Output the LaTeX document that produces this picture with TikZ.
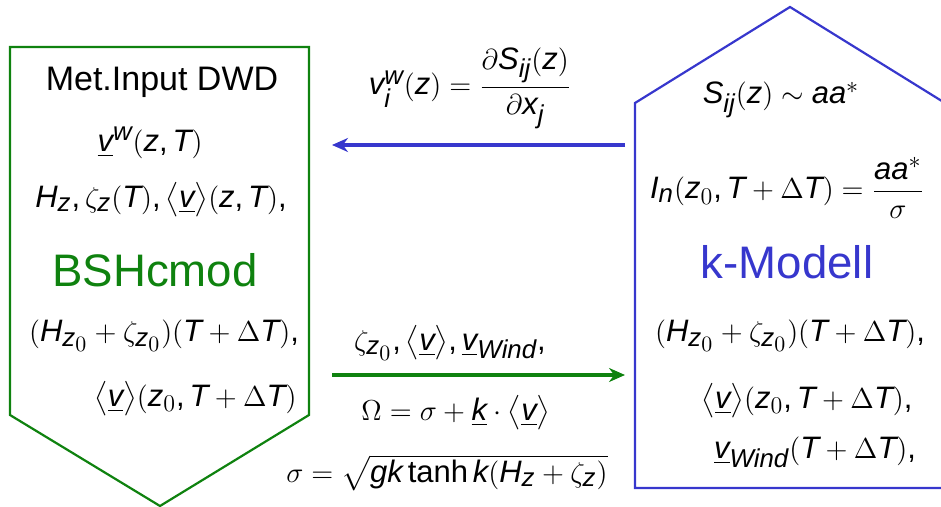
\documentclass[tikz,border=0pt]{standalone}
\usepackage{amsmath}
\usepackage{fontspec}
\setmainfont{Liberation Sans}
\usepackage[italic]{mathastext}
\usetikzlibrary{arrows.meta}
\definecolor{bshgreen}{RGB}{15,130,15}
\definecolor{kblue}{RGB}{55,55,205}
\newcommand{\vmean}{\bigl\langle\underline{v}\bigr\rangle}

\begin{document}
\begin{tikzpicture}[x=0.5pt,y=-0.5pt,
    every node/.style={inner sep=0pt,font=\fontsize{15.5}{18}\selectfont},
    title/.style={font=\fontsize{22.8}{27}\selectfont},
    head/.style={font=\fontsize{17}{20}\selectfont},
    flow/.style={line width=1.8pt,-{Stealth[length=8pt,width=7pt]}}]
\useasboundingbox (0,0) rectangle (941,507);
% BSHcmod box
\draw[bshgreen,line width=1.1pt] (10,47) coordinate (g-nw) -- (309,47) coordinate (g-ne)
    -- (309,415) coordinate (g-se) -- (160,506) coordinate (g-s) -- (10,415) coordinate (g-sw) -- cycle;
% k-Modell box
\draw[kblue,line width=1.1pt] (635,103) coordinate (b-nw) -- (790,7) coordinate (b-n)
    -- (945,103) coordinate (b-ne) -- (945,488) coordinate (b-se) -- (635,488) coordinate (b-sw) -- cycle;

\node[head] (met) at (162,82) {Met.Input DWD};
\node (vw) at (150,143) {$\underline{v}^{w}(z,T)$};
\node (hz) at (161,200) {$H_z,\zeta_z(T),\vmean(z,T),$};
\node[title,text=bshgreen] (bsh) at (155,270) {BSHcmod};
\node (hzz) at (164,336) {$(H_{z_0}+\zeta_{z_0})(T+\Delta T),$};
\node[anchor=east] (vz) at (297,399) {$\vmean(z_0,T+\Delta T)$};

\node (sij) at (781,100) {$S_{ij}(z)\sim aa^{*}$};
\node (in) at (787,188) {$I_n(z_0,T+\Delta T)=\dfrac{aa^{*}}{\sigma}$};
\node[title,text=kblue] (kmod) at (787,262) {k-Modell};
\node (hzk) at (790,336) {$(H_{z_0}+\zeta_{z_0})(T+\Delta T),$};
\node (vzk) at (807,401) {$\vmean(z_0,T+\Delta T),$};
\node (vwind) at (815,452) {$\underline{v}_{Wind}(T+\Delta T),$};

% exchange
\coordinate (kw) at (625,145);
\coordinate (bw) at (332,145);
\coordinate (be) at (332,375);
\coordinate (ke) at (625,375);
\draw[flow,kblue] (kw) -- (bw);
\draw[flow,bshgreen] (be) -- (ke);
\node (vi) at (470,88) {$v_i^{w}(z)=\dfrac{\partial S_{ij}(z)}{\partial x_j}$};
\node (zeta) at (450,343) {$\zeta_{z_0},\vmean,\underline{v}_{Wind},$};
\node (omega) at (456,413) {$\Omega=\sigma+\underline{k}\cdot\vmean$};
\node (sigma) at (447,473) {$\sigma=\sqrt{gk\tanh k(H_z+\zeta_z)}$};
\end{tikzpicture}
\end{document}
